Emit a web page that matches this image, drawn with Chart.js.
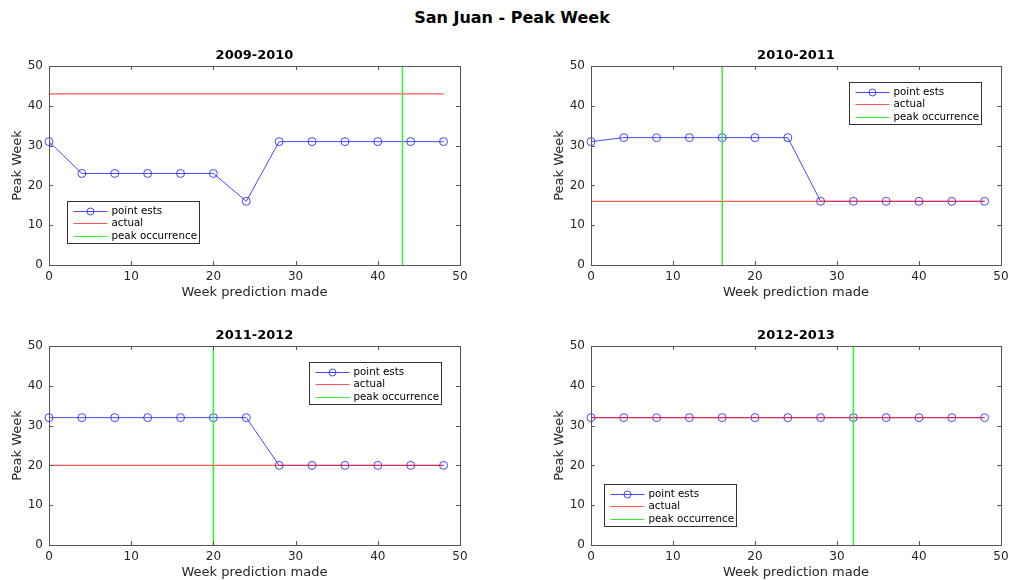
<!DOCTYPE html>
<html>
<head>
<meta charset="utf-8">
<script src="https://cdn.jsdelivr.net/npm/chart.js@4.4.0/dist/chart.umd.min.js"></script>
<style>
  html, body { margin:0; padding:0; background:#fff; }
  #wrap { position:relative; width:1024px; height:580px; overflow:hidden; }
  #sup { position:absolute; left:0; top:8px; width:1024px; text-align:center;
         font-family:"DejaVu Sans", sans-serif; font-weight:bold; font-size:16px; color:#000; }
  canvas { position:absolute; }
</style>
</head>
<body>
<div id="wrap">
  <div id="sup">San Juan - Peak Week</div>
  <canvas id="c0" width="512" height="300" style="left:0;top:0"></canvas>
  <canvas id="c1" width="512" height="300" style="left:512px;top:0"></canvas>
  <canvas id="c2" width="512" height="300" style="left:0;top:280px"></canvas>
  <canvas id="c3" width="512" height="300" style="left:512px;top:280px"></canvas>
</div>
<script>
// ---- data ----
const seasons = ['2009-2010', '2010-2011', '2011-2012', '2012-2013'];
const weeks = [0, 4, 8, 12, 16, 20, 24, 28, 32, 36, 40, 44, 48];
const est0910 = [31, 23, 23, 23, 23, 23, 16, 31, 31, 31, 31, 31, 31];
const est1011 = [31, 32, 32, 32, 32, 32, 32, 16, 16, 16, 16, 16, 16];
const est1112 = [32, 32, 32, 32, 32, 32, 32, 20, 20, 20, 20, 20, 20];
const est1213 = [32, 32, 32, 32, 32, 32, 32, 32, 32, 32, 32, 32, 32];
const actualWeek = [43, 16, 20, 32];
const peakWeek = [43, 16, 20, 32];
const tickValues = [0, 10, 20, 30, 40, 50];
const legendLabels = ['point ests', 'actual', 'peak occurrence'];
const xTitle = 'Week prediction made';
const yTitle = 'Peak Week';

const estimates = [est0910, est1011, est1112, est1213];

// ---- styling ----
const FONT = '"DejaVu Sans", sans-serif';
const BLUE = 'rgba(40,40,255,0.85)';
const RED = 'rgba(255,30,30,0.75)';
const GREEN = 'rgb(50,240,50)';
const AXIS = '#555';
const TEXT = '#262626';
// legend box offsets relative to chart area (left, top)
const legendOffsets = [[18, 135], [258, 16], [260, 16], [13, 138]];
const padLeft = [0, 30, 0, 30];
const padRight = [52, 23, 52, 23];

const decor = {
  id: 'decor',
  afterDatasetsDraw(chart, args, opts) {
    const ctx = chart.ctx;
    const a = chart.chartArea;
    const xs = chart.scales.x, ys = chart.scales.y;
    ctx.save();
    // box
    ctx.strokeStyle = AXIS; ctx.lineWidth = 1;
    ctx.strokeRect(Math.round(a.left) + 0.5, Math.round(a.top) + 0.5,
                   Math.round(a.right - a.left), Math.round(a.bottom - a.top));
    // inward ticks
    ctx.beginPath();
    tickValues.forEach(v => {
      const px = Math.round(xs.getPixelForValue(v)) + 0.5;
      ctx.moveTo(px, a.bottom); ctx.lineTo(px, a.bottom - 4);
      ctx.moveTo(px, a.top); ctx.lineTo(px, a.top + 4);
      const py = Math.round(ys.getPixelForValue(v)) + 0.5;
      ctx.moveTo(a.left, py); ctx.lineTo(a.left + 4, py);
      ctx.moveTo(a.right, py); ctx.lineTo(a.right - 4, py);
    });
    ctx.stroke();
    // titles
    ctx.fillStyle = '#000';
    ctx.textAlign = 'center'; ctx.textBaseline = 'middle';
    ctx.font = 'bold 13px ' + FONT;
    ctx.fillText(opts.title, (a.left + a.right) / 2, a.top - 10);
    ctx.fillStyle = TEXT;
    ctx.font = '13px ' + FONT;
    ctx.fillText(xTitle, (a.left + a.right) / 2, a.bottom + 28);
    ctx.save();
    ctx.translate(a.left - 31, (a.top + a.bottom) / 2);
    ctx.rotate(-Math.PI / 2);
    ctx.fillText(yTitle, 0, 0);
    ctx.restore();
    // legend
    const lx = Math.round(a.left + opts.legend[0]) + 0.5;
    const ly = Math.round(a.top + opts.legend[1]) + 0.5;
    const lw = 132, lh = 42;
    ctx.fillStyle = '#fff';
    ctx.fillRect(lx, ly, lw, lh);
    ctx.strokeStyle = '#333';
    ctx.strokeRect(lx, ly, lw, lh);
    const cols = [BLUE, RED, GREEN];
    ctx.font = '10.3px ' + FONT;
    ctx.textAlign = 'left';
    legendLabels.forEach((lab, i) => {
      const yy = Math.round(ly + 9 + i * 12.7) + 0.5;
      ctx.strokeStyle = cols[i]; ctx.lineWidth = 1;
      ctx.beginPath(); ctx.moveTo(lx + 6, yy); ctx.lineTo(lx + 40, yy); ctx.stroke();
      if (i === 0) {
        ctx.beginPath(); ctx.arc(lx + 23, yy, 3.5, 0, Math.PI * 2); ctx.stroke();
      }
      ctx.fillStyle = '#000';
      ctx.fillText(lab, lx + 44, yy);
    });
    ctx.restore();
  }
};

seasons.forEach((season, i) => {
  const est = estimates[i];
  new Chart(document.getElementById('c' + i), {
    type: 'line',
    data: {
      datasets: [
        {
          label: legendLabels[0],
          data: weeks.map((w, k) => ({ x: w, y: est[k] })),
          borderColor: BLUE, borderWidth: 1,
          pointRadius: 4, pointHoverRadius: 4, pointStyle: 'circle',
          pointBorderColor: BLUE, pointBackgroundColor: 'rgba(0,0,0,0)', pointBorderWidth: 1,
          fill: false, tension: 0, clip: false, order: 3
        },
        {
          label: legendLabels[1],
          data: [{ x: weeks[0], y: actualWeek[i] }, { x: weeks[weeks.length - 1], y: actualWeek[i] }],
          borderColor: RED, borderWidth: 1.3, pointRadius: 0, fill: false, order: 2
        },
        {
          label: legendLabels[2],
          data: [{ x: peakWeek[i], y: tickValues[0] }, { x: peakWeek[i], y: tickValues[tickValues.length - 1] }],
          borderColor: GREEN, borderWidth: 1.5, pointRadius: 0, fill: false, order: 1
        }
      ]
    },
    options: {
      responsive: false, animation: false, devicePixelRatio: 1,
      layout: { padding: { left: padLeft[i], right: padRight[i], top: 66, bottom: 0 } },
      plugins: {
        legend: { display: false }, title: { display: false }, tooltip: { enabled: false },
        decor: { title: season, legend: legendOffsets[i] }
      },
      scales: {
        x: {
          type: 'linear', min: 0, max: 50,
          afterBuildTicks: s => { s.ticks = tickValues.map(v => ({ value: v })); },
          afterFit: s => { s.height = 35; },
          grid: { display: false, drawTicks: false }, border: { display: false },
          ticks: { color: TEXT, font: { family: FONT, size: 12 }, padding: 5, maxRotation: 0 }
        },
        y: {
          type: 'linear', min: 0, max: 50,
          afterBuildTicks: s => { s.ticks = tickValues.map(v => ({ value: v })); },
          afterFit: s => { s.width = 49; },
          grid: { display: false, drawTicks: false }, border: { display: false },
          ticks: { color: TEXT, font: { family: FONT, size: 12 }, padding: 6 }
        }
      }
    },
    plugins: [decor]
  });
});
</script>
</body>
</html>
